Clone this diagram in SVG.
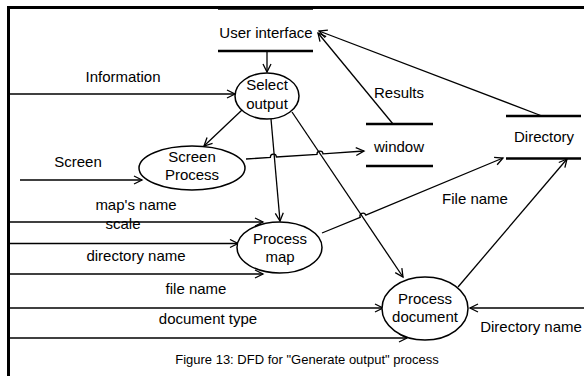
<svg xmlns="http://www.w3.org/2000/svg" width="584" height="376" viewBox="0 0 584 376">
<style>
text{font-family:"Liberation Sans",Arial,sans-serif;font-size:15px;fill:#000;text-anchor:middle}
.cap{font-size:13px}
.c{fill:none;stroke:#000;stroke-width:1.3}
.p{fill:#fff;stroke:#000;stroke-width:1.5}
.ds{stroke:#000;stroke-width:2.5}
.bd{fill:none;stroke:#000;stroke-width:3}
</style>
<defs>
<marker id="a" markerUnits="userSpaceOnUse" markerWidth="12" markerHeight="12" refX="9" refY="5" orient="auto">
<path d="M1,1 L9,5 L1,9" fill="none" stroke="#000" stroke-width="1.3"/>
</marker>
</defs>
<rect width="584" height="376" fill="#fff"/>
<path class="bd" d="M8.5,376 V7.5 H584"/>
<g id="connectors">
<path class="c" d="M267,51 V72" marker-end="url(#a)"/>
<path class="c" d="M8,94 H235" marker-end="url(#a)"/>
<path class="c" d="M242,110 L204,146" marker-end="url(#a)"/>
<path class="c" d="M20,180 H142" marker-end="url(#a)"/>
<path class="c" d="M246,159 L270.4,157.4 A3,3 0 0 1 276.4,157 L317,154.3 A3,3 0 0 1 323,153.9 L364,151" marker-end="url(#a)"/>
<path class="c" d="M393,124 L318,33" marker-end="url(#a)"/>
<path class="c" d="M542,116 L319,31" marker-end="url(#a)"/>
<path class="c" d="M271,119 L280,221" marker-end="url(#a)"/>
<path class="c" d="M292,112 L403,277" marker-end="url(#a)"/>
<path class="c" d="M322,233 L360.2,217.4 A3,3 0 0 1 365.8,215.1 L503,158" marker-end="url(#a)"/>
<path class="c" d="M458,287 L567,159" marker-end="url(#a)"/>
<path class="c" d="M584,308 H470" marker-end="url(#a)"/>
<path class="c" d="M8,222 H263" marker-end="url(#a)"/>
<path class="c" d="M8,243.5 H238" marker-end="url(#a)"/>
<path class="c" d="M8,274 H263" marker-end="url(#a)"/>
<path class="c" d="M8,308 H383" marker-end="url(#a)"/>
<path class="c" d="M8,338 H407" marker-end="url(#a)" stroke-width="1.6"/>
</g>
<g id="user-interface">
<line class="ds" x1="218" y1="8.5" x2="313" y2="8.5"/>
<line class="ds" x1="218" y1="51" x2="313" y2="51"/>
<text x="266" y="38">User interface</text>
</g>
<g id="select-output">
<ellipse class="p" cx="267" cy="96" rx="32" ry="23"/>
<text x="267" y="90">Select</text>
<text x="267" y="109">output</text>
</g>
<g id="screen-process">
<ellipse class="p" cx="192" cy="168" rx="53" ry="22"/>
<text x="192" y="162">Screen</text>
<text x="192" y="180">Process</text>
</g>
<g id="window">
<line class="ds" x1="366" y1="124" x2="433" y2="124"/>
<line class="ds" x1="366" y1="166" x2="433" y2="166"/>
<text x="399" y="152">window</text>
</g>
<g id="directory">
<line class="ds" x1="506" y1="116" x2="581" y2="116"/>
<line class="ds" x1="506" y1="158.5" x2="581" y2="158.5"/>
<text x="544" y="142">Directory</text>
</g>
<g id="process-map">
<ellipse class="p" cx="279.5" cy="247.5" rx="42.5" ry="25.5"/>
<text x="280" y="244">Process</text>
<text x="280" y="262">map</text>
</g>
<g id="process-document">
<ellipse class="p" cx="425" cy="308.5" rx="43" ry="31.5"/>
<text x="425" y="304">Process</text>
<text x="425" y="322">document</text>
</g>
<g id="labels">
<text x="123" y="82">Information</text>
<text x="399" y="98">Results</text>
<text x="78" y="167">Screen</text>
<text x="136" y="210">map's name</text>
<text x="123" y="229">scale</text>
<text x="136" y="261">directory name</text>
<text x="196" y="294">file name</text>
<text x="208" y="324">document type</text>
<text x="475" y="204">File name</text>
<text x="531" y="332">Directory name</text>
<text class="cap" x="307" y="364">Figure 13: DFD for "Generate output" process</text>
</g>
</svg>
